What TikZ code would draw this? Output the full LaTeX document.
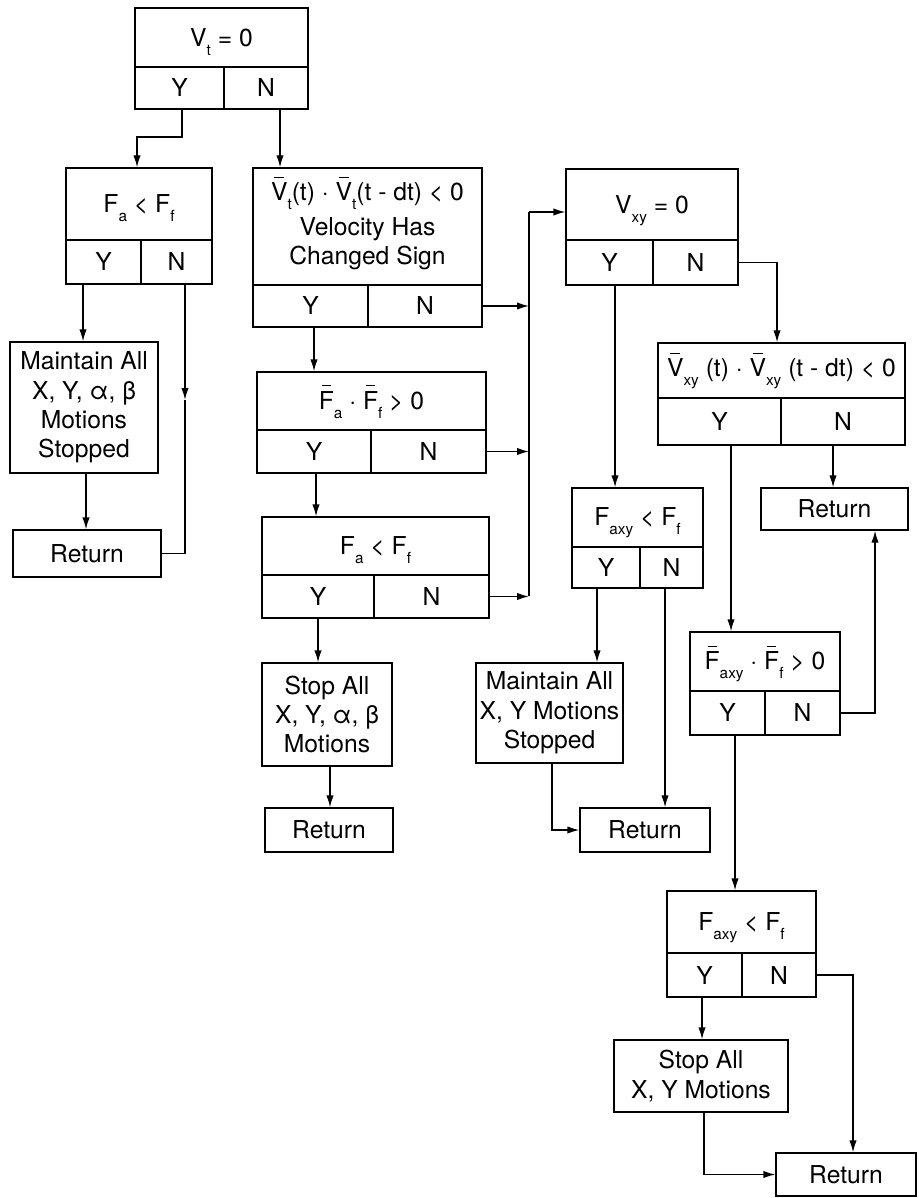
\documentclass[tikz,border=0pt]{standalone}
\usepackage{fontspec}
\setmainfont{TeX Gyre Heros}
\usetikzlibrary{arrows.meta,fit}
\newcommand{\lsub}[1]{\smash{\raisebox{-0.7ex}{\fontsize{11.5}{11.5}\selectfont #1}}}
\newcommand{\ovl}[1]{\leavevmode\setbox0\hbox{#1}\rlap{\hbox to\wd0{\hss\smash{\raisebox{0.92em}{\rule{0.6\wd0}{0.75pt}}}\hss}}\box0}
\newcommand{\decbox}[8]{%
  \node[cell, fit={(#2,#3) (#4,#5)}] (#1) {};
  \node[lbl] (#1t) at (#1.center) {#8};
  \node[cell, fit={(#2,#5) (#7,#6)}] (#1y) {};
  \node[lbl] (#1yt) at (#1y.center) {Y};
  \node[cell, fit={(#7,#5) (#4,#6)}] (#1n) {};
  \node[lbl] (#1nt) at (#1n.center) {N};
}
\newcommand{\procbox}[6]{%
  \node[cell, fit={(#2,#3) (#4,#5)}] (#1) {};
  \node[lbl] (#1t) at (#1.center) {#6};
}
\begin{document}
\begin{tikzpicture}[x=0.75pt, y=-0.75pt, line width=1pt,
  cell/.style={draw, inner sep=0pt},
  lbl/.style={inner sep=0pt, align=center, font=\fontsize{18.5}{22}\selectfont},
  arr/.style={-{Latex[length=9pt,width=5.5pt]}}]
\fill[white] (0,0) rectangle (919,1198);
\useasboundingbox (0,0) rectangle (919,1198);

% decision boxes: name, x1, y1, x2, ydiv, y2, xsplit, text
\decbox{vt}{135}{8}{308}{67}{109}{224}{V\lsub{t} = 0}
\decbox{fa1}{66}{168}{212}{240}{284}{141}{F\lsub{a} < F\lsub{f}}
\decbox{big}{253}{168}{482}{285}{327}{368}{\ovl{V}\lsub{t}(t) · \ovl{V}\lsub{t}(t - dt) < 0\\[4pt]Velocity Has\\Changed Sign}
\decbox{fafe}{257}{372}{486}{430}{473}{371}{\ovl{F}\lsub{a} · \ovl{F}\lsub{f} > 0}
\decbox{fa2}{262}{517}{489}{575}{618}{374}{F\lsub{a} < F\lsub{f}}
\decbox{vxy}{566}{169}{738}{240}{285}{653}{V\lsub{xy} = 0}
\decbox{vv}{658}{343}{905}{398}{445}{781}{\ovl{V}\lsub{xy} (t) · \ovl{V}\lsub{xy} (t - dt) < 0}
\decbox{faxy1}{572}{488}{703}{547}{588}{640}{F\lsub{axy} < F\lsub{f}}
\decbox{fx}{690}{632}{840}{691}{735}{765}{\ovl{F}\lsub{axy} · \ovl{F}\lsub{f} > 0}
\decbox{faxy2}{667}{891}{816}{953}{997}{742}{F\lsub{axy} < F\lsub{f}}

% process boxes
\procbox{m1}{10}{342}{158}{473}{Maintain All\\X, Y, α, β\\Motions\\Stopped}
\procbox{ret1}{13}{530}{161}{577}{Return}
\procbox{stop1}{262}{663}{392}{766}{Stop All\\X, Y, α, β\\Motions}
\procbox{ret2}{265}{808}{393}{852}{Return}
\procbox{m2}{476}{663}{623}{763}{Maintain All\\X, Y Motions\\Stopped}
\procbox{ret4}{580}{808}{710}{852}{Return}
\procbox{ret3}{761}{488}{908}{530}{Return}
\procbox{stop2}{614}{1040}{788}{1112}{Stop All\\X, Y Motions}
\procbox{ret5}{776}{1153}{916}{1196}{Return}

% connectors
\draw[arr] (vty.south -| 182,0) -- (182,137) -- (137,137) -- (fa1.north -| 137,0);
\draw[arr] (vtn.south -| 280,0) -- (big.north -| 280,0);

\draw[arr] (fa1y.south -| 83,0) -- (m1.north -| 83,0);
\draw[arr] (m1.south -| 86,0) -- (ret1.north -| 86,0);
\coordinate (mid1) at (185,400);
\draw[arr] (fa1n.south -| 185,0) -- (mid1);
\draw (mid1) |- (ret1.east);

\draw[arr] (bigy.south -| 314,0) -- (fafe.north -| 314,0);
\draw[arr] (fafey.south -| 316,0) -- (fa2.north -| 316,0);
\draw[arr] (fa2y.south -| 318,0) -- (stop1.north -| 318,0);
\draw[arr] (stop1.south -| 330,0) -- (ret2.north -| 330,0);

\coordinate (bustop) at (529,212);
\coordinate (busbot) at (529,596);
\draw (busbot) -- (bustop);
\draw[arr] (bign.east) -- (bign.east -| bustop);
\draw[arr] (fafen.east) -- (fafen.east -| bustop);
\draw[arr] (fa2n.east) -- (fa2n.east -| bustop);
\draw[arr] (bustop) -- (vxy.west |- bustop);

\draw[arr] (vxyn.east) -| (vv.north -| 777,0);
\draw[arr] (vxyy.south -| 615,0) -- (faxy1.north -| 615,0);
\draw[arr] (vvn.south -| 833,0) -- (ret3.north -| 833,0);
\draw[arr] (vvy.south -| 731,0) -- (fx.north -| 731,0);
\draw[arr] (fxn.east) -| (ret3.south -| 875,0);
\draw[arr] (fxy.south -| 735,0) -- (faxy2.north -| 735,0);

\draw[arr] (faxy1y.south -| 597,0) -- (m2.north -| 597,0);
\draw[arr] (faxy1n.south -| 665,0) -- (ret4.north -| 665,0);
\draw[arr] (m2.south -| 552,0) |- (ret4.west);

\draw[arr] (faxy2y.south -| 702,0) -- (stop2.north -| 702,0);
\draw[arr] (faxy2n.east) -| (ret5.north -| 853,0);
\draw[arr] (stop2.south -| 704,0) |- (ret5.west);
\end{tikzpicture}
\end{document}
